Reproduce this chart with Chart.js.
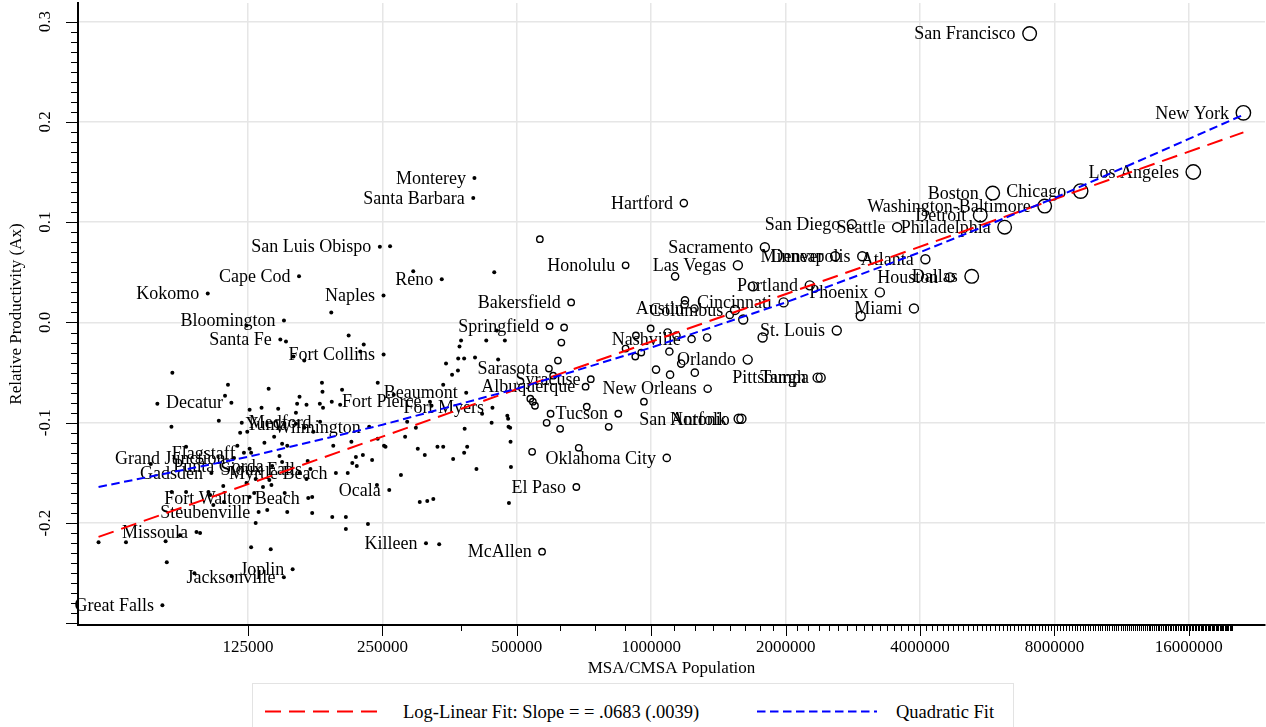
<!DOCTYPE html>
<html lang="en">
<head>
<meta charset="utf-8">
<title>Relative Productivity and MSA/CMSA Population</title>
<script src="https://cdn.jsdelivr.net/npm/chart.js@4.4.1/dist/chart.umd.min.js"></script>
<style>
  html, body { margin: 0; padding: 0; background: #ffffff; }
  #frame { position: relative; width: 1266px; height: 727px; overflow: hidden; }
  #plot { position: absolute; left: 0; top: 0; }
  #key { position: absolute; left: 252px; top: 683px; }
</style>
</head>
<body>
<div id="frame">
  <canvas id="plot" width="1266" height="727"></canvas>
  <svg id="key" width="762" height="60" xmlns="http://www.w3.org/2000/svg"></svg>
</div>
<script>
// Labelled metropolitan areas: name, population, relative productivity (Ax)
const cityNames = [
  "New York", "Los Angeles", "San Francisco", "Chicago", "Washington-Baltimore",
  "Boston", "Detroit", "Philadelphia", "Dallas", "Houston",
  "Atlanta", "Phoenix", "Miami", "Seattle", "San Diego",
  "Minneapolis", "Denver", "Portland", "St. Louis", "Pittsburgh",
  "Tampa", "Cincinnati", "Sacramento", "Orlando", "San Antonio",
  "Norfolk", "Las Vegas", "Columbus", "New Orleans", "Austin",
  "Nashville", "Hartford", "Oklahoma City", "Honolulu", "Tucson",
  "Syracuse", "Albuquerque", "El Paso", "Bakersfield", "Springfield",
  "Sarasota", "McAllen", "Fort Myers", "Monterey", "Santa Barbara",
  "Beaumont", "Reno", "Fort Pierce", "Killeen", "Ocala",
  "Fort Collins", "Naples", "San Luis Obispo", "Wilmington", "Myrtle Beach",
  "Medford", "Sioux Falls", "Fort Walton Beach", "Cape Cod", "Yuma",
  "Joplin", "Bloomington", "Jacksonville", "Santa Fe", "Punta Gorda",
  "Steubenville", "Flagstaff", "Grand Junction", "Decatur", "Gadsden",
  "Kokomo", "Missoula", "Great Falls"
];
const cityPopulation = [
  21199865, 16373645, 7039362, 9157540, 7608070,
  5819100, 5456428, 6188463, 5221801, 4669571,
  4112198, 3251876, 3876380, 3554760, 2813833,
  2968806, 2581506, 2265223, 2603607, 2358695,
  2395997, 1979202, 1796857, 1644561, 1592383,
  1569541, 1563282, 1540157, 1337726, 1249763,
  1231311, 1183110, 1083346, 876156, 843746,
  732117, 712738, 679622, 661645, 591932,
  589959, 569463, 440888, 401762, 399347,
  385090, 339486, 319426, 312952, 258916,
  251494, 251377, 246681, 233450, 196629,
  181269, 172412, 170498, 162582, 160026,
  157322, 150433, 150355, 147635, 141627,
  132008, 122366, 116255, 114706, 103459,
  101541, 95802, 80357
];
const cityProductivity = [
  0.209, 0.150, 0.288, 0.131, 0.116,
  0.129, 0.107, 0.095, 0.046, 0.045,
  0.063, 0.030, 0.014, 0.095, 0.098,
  0.066, 0.066, 0.037, -0.008, -0.055,
  -0.055, 0.020, 0.075, -0.037, -0.096,
  -0.096, 0.057, 0.0125, -0.066, 0.014,
  -0.0165, 0.119, -0.135, 0.057, -0.091,
  -0.0565, -0.064, -0.164, 0.020, -0.0035,
  -0.046, -0.2285, -0.085, 0.144, 0.124,
  -0.070, 0.043, -0.079, -0.220, -0.167,
  -0.032, 0.027, 0.0756, -0.104, -0.150,
  -0.099, -0.146, -0.175, 0.046, -0.101,
  -0.246, 0.002, -0.254, -0.017, -0.143,
  -0.189, -0.130, -0.135, -0.080, -0.150,
  0.029, -0.209, -0.282
];

// Unlabelled metropolitan areas
const otherPopulation = [
  563000, 1131000, 1690000, 1190000, 1188000, 1499000, 1607000, 1776000, 2946000, 638000,
  629000, 618000, 603000, 536000, 543000, 549000, 595000, 583000, 625000, 717000,
  803000, 963000, 541000, 688000, 876000, 924000, 997000, 1088000, 1139000, 1334000,
  1098000, 950000, 921000, 1025000, 1102000, 1252000, 1167000,
  293000, 445000, 260000, 192000, 124000, 152000, 210000, 227000, 223000, 158000,
  167000, 84600, 112700, 139000, 111000, 78300, 126000, 134000, 146000, 160000,
  163000, 183000, 183500, 203000, 244000, 192500, 201000, 169000, 181000, 184000,
  265000, 107500, 84200, 121000, 124500, 120000, 136000, 143000, 149000, 153000,
  167000, 175000, 213000, 194000, 244000, 252000, 254000, 281000, 297000, 284000,
  342000, 347000, 358000, 369000, 369500, 381000, 403000, 372000, 375000, 427000,
  470000, 451000, 454000, 322000, 418000, 439000, 476000, 478000, 483000, 479000,
  382000, 484000, 300000, 311000, 332000, 342000, 387000, 381000, 360000, 406000,
  485000, 275000, 303000, 315000, 325000, 480000, 335000, 218000, 226000, 237000,
  214000, 219000, 209000, 243000, 170000, 169000, 163000, 174000, 174000, 193000,
  207000, 207000, 232000, 90800, 118300, 127000, 126000, 147000, 149000, 75700,
  124000, 130000, 135000, 141000, 139500, 110000, 84300, 90800, 101900, 102800,
  110400, 104500, 129000, 151000, 126000, 138000, 153000, 130000, 88000, 97600,
  57813, 66600, 81700, 82200, 127000, 140500, 94800, 114900, 161000
];
const otherProductivity = [
  0.083, 0.046, 0.036, 0.022, 0.018, 0.0075, 0.003, -0.015, 0.0065, -0.005,
  -0.020, -0.038, -0.053, -0.076, -0.079, -0.083, -0.091, -0.100, -0.106, -0.084,
  -0.104, -0.079, -0.129, -0.125, -0.026, -0.013, -0.006, -0.010, -0.013, -0.015,
  -0.029, -0.030, -0.034, -0.047, -0.052, -0.050, -0.041,
  0.051, 0.050, 0.076, 0.010, -0.003, -0.019, -0.013, -0.022, -0.029, -0.034,
  -0.038, -0.050, -0.062, -0.066, -0.073, -0.081, -0.087, -0.085, -0.086, -0.090,
  -0.074, -0.060, -0.069, -0.067, -0.060, -0.079, -0.082, -0.082, -0.081, -0.085,
  -0.072, -0.098, -0.104, -0.100, -0.109, -0.110, -0.120, -0.114, -0.121, -0.123,
  -0.105, -0.109, -0.119, -0.123, -0.116, -0.123, -0.124, -0.114, -0.105, -0.099,
  -0.062, -0.041, -0.052, -0.048, -0.036, -0.036, -0.035, -0.024, -0.018, -0.018,
  -0.018, -0.008, -0.037, -0.083, -0.091, -0.100, -0.093, -0.096, -0.105, -0.104,
  -0.106, -0.119, -0.126, -0.132, -0.124, -0.124, -0.124, -0.130, -0.136, -0.146,
  -0.144, -0.152, -0.179, -0.178, -0.176, -0.180, -0.221, -0.134, -0.132, -0.137,
  -0.140, -0.143, -0.150, -0.162, -0.138, -0.156, -0.150, -0.174, -0.190, -0.194,
  -0.194, -0.206, -0.201, -0.124, -0.123, -0.130, -0.126, -0.133, -0.139, -0.141,
  -0.160, -0.156, -0.164, -0.162, -0.157, -0.163, -0.169, -0.169, -0.169, -0.172,
  -0.179, -0.182, -0.170, -0.170, -0.174, -0.187, -0.189, -0.200, -0.212, -0.210,
  -0.219, -0.219, -0.218, -0.239, -0.224, -0.226, -0.250, -0.253, -0.081
];

// Log-linear fit: slope per log point and its standard error, level at 1,000,000
const logLinearSlope = 0.0683;
const logLinearSE = 0.0039;
const logLinearAtOneMillion = -0.0191;

// Quadratic fit
const quadFitPopulation = [57813, 125000, 250000, 500000, 1000000, 2000000, 4000000, 8000000, 16000000, 21199865];
const quadFitValue = [-0.164, -0.134, -0.102, -0.066, -0.025, 0.020, 0.070, 0.124, 0.183, 0.207];

// Axis ticks
const xMajorTicks = [125000, 250000, 500000, 1000000, 2000000, 4000000, 8000000, 16000000];
const xMinorStep = 125000;
const xMinorLast = 20000000;
const yMajorTicks = [-0.2, -0.1, 0.0, 0.1, 0.2, 0.3];
const yMinorStep = 0.01;

const SERIF = '"Liberation Serif", "Times New Roman", serif';
const GRID = '#e6e6e6';

const cityPoints = cityNames.map((n, i) => ({ x: cityPopulation[i], y: cityProductivity[i], name: n }));
const otherPoints = otherPopulation.map((p, i) => ({ x: p, y: otherProductivity[i], name: '' }));
const allPoints = cityPoints.concat(otherPoints);

const popMin = Math.min(...allPoints.map(p => p.x));
const popMax = Math.max(...allPoints.map(p => p.x));
const logLinearLine = [popMin, popMax].map(p => ({
  x: p, y: logLinearAtOneMillion + logLinearSlope * Math.log(p / 1000000)
}));
const quadLine = quadFitPopulation.map((p, i) => ({ x: p, y: quadFitValue[i] }));

function markerRadius(pop) {
  if (pop < 500000) return 2;
  if (pop < 1000000) return 3.2;
  if (pop < 1500000) return 3.6;
  if (pop < 5000000) return 4.5;
  if (pop < 9000000) return 6.8;
  return 7.2;
}
const isMajorX = v => xMajorTicks.includes(v);
const yHundredths = v => Math.round(v * 100);
const isMajorY = v => yMajorTicks.some(t => Math.round(t * 100) === yHundredths(v));

// Keep the plot area flush with the axes: no extra room for end labels
function noEndPadding(s) {
  s.paddingTop = 0; s.paddingBottom = 0; s.paddingLeft = 0; s.paddingRight = 0;
}

// City names sit to the left of their markers, drawn before the fit lines
const cityLabels = {
  id: 'cityLabels',
  afterDatasetDraw(chart, args) {
    if (args.index !== 0) return;
    const ctx = chart.ctx;
    ctx.save();
    ctx.font = '18px ' + SERIF;
    ctx.fillStyle = '#000';
    ctx.textAlign = 'right';
    ctx.textBaseline = 'middle';
    args.meta.data.forEach((el, i) => {
      const pt = allPoints[i];
      if (!pt.name) return;
      const r = markerRadius(pt.x) + (pt.x < 500000 ? 0 : 0.7);
      ctx.fillText(pt.name, el.x - r - 6.5, el.y + 1);
    });
    ctx.restore();
  }
};

// Major and minor tick marks along both axes
const tickMarks = {
  id: 'tickMarks',
  afterDraw(chart) {
    const { ctx, scales: { x, y }, chartArea } = chart;
    ctx.save();
    ctx.strokeStyle = '#000';
    ctx.lineWidth = 1;
    ctx.beginPath();
    for (let v = xMinorStep; v <= xMinorLast; v += xMinorStep) {
      const px = Math.round(x.getPixelForValue(v)) + 0.5;
      const len = isMajorX(v) ? 11 : 6;
      ctx.moveTo(px, chartArea.bottom);
      ctx.lineTo(px, chartArea.bottom + len);
    }
    for (let k = -30; k <= 30; k++) {
      const v = k * yMinorStep;
      const py = Math.round(y.getPixelForValue(v)) + 0.5;
      const len = (k % 10 === 0) ? 12 : 7;
      ctx.moveTo(chartArea.left, py);
      ctx.lineTo(chartArea.left - len, py);
    }
    ctx.stroke();
    ctx.restore();
  }
};

const chart = new Chart(document.getElementById('plot'), {
  type: 'scatter',
  data: {
    datasets: [
      {
        label: 'Metropolitan areas',
        data: allPoints,
        order: 2,
        pointRadius: c => markerRadius(c.raw.x),
        pointBackgroundColor: c => c.raw.x < 500000 ? '#000' : 'rgba(0,0,0,0)',
        pointBorderColor: '#000',
        pointBorderWidth: c => c.raw.x < 500000 ? 0 : 1.4,
        showLine: false
      },
      {
        label: 'Log-Linear Fit: Slope = = ' + logLinearSlope.toFixed(4).replace(/^0/, '') +
               ' (' + logLinearSE.toFixed(4).replace(/^0/, '') + ')',
        data: logLinearLine,
        order: 1,
        showLine: true,
        borderColor: '#ff0000',
        borderWidth: 2,
        borderDash: [16, 8],
        pointRadius: 0
      },
      {
        label: 'Quadratic Fit',
        data: quadLine,
        order: 0,
        showLine: true,
        borderColor: '#0000ff',
        borderWidth: 2,
        borderDash: [8.5, 4.5],
        pointRadius: 0,
        tension: 0
      }
    ]
  },
  options: {
    responsive: false,
    animation: false,
    events: [],
    layout: { autoPadding: false, padding: { top: 3, right: 1, bottom: 44, left: 0 } },
    plugins: { legend: { display: false }, tooltip: { enabled: false } },
    scales: {
      x: {
        type: 'logarithmic',
        position: 'bottom',
        min: 52000,
        max: 23700000,
        afterBuildTicks: s => {
          const t = [];
          for (let v = xMinorStep; v <= xMinorLast; v += xMinorStep) t.push({ value: v, major: isMajorX(v) });
          s.ticks = t;
        },
        afterFit: s => { s.height = 58; noEndPadding(s); },
        grid: {
          color: c => (c.tick && isMajorX(c.tick.value)) ? GRID : 'rgba(0,0,0,0)',
          lineWidth: 1.5,
          drawTicks: false
        },
        border: { display: true, color: '#000', width: 2 },
        ticks: {
          autoSkip: false,
          maxRotation: 0,
          minRotation: 0,
          padding: 12,
          color: '#000',
          font: { family: SERIF, size: 17 },
          callback: v => isMajorX(v) ? String(v) : ''
        },
        title: {
          display: true,
          text: 'MSA/CMSA Population',
          color: '#000',
          font: { family: SERIF, size: 17 },
          padding: { top: 0, bottom: 4 }
        }
      },
      y: {
        type: 'linear',
        position: 'left',
        min: -0.3016,
        max: 0.3185,
        afterBuildTicks: s => {
          const t = [];
          for (let k = -30; k <= 30; k++) t.push({ value: k / 100 });
          s.ticks = t;
        },
        afterFit: s => { s.width = 78; noEndPadding(s); },
        grid: {
          color: c => (c.tick && isMajorY(c.tick.value)) ? GRID : 'rgba(0,0,0,0)',
          lineWidth: 1.5,
          drawTicks: false
        },
        border: { display: true, color: '#000', width: 2 },
        ticks: {
          autoSkip: false,
          minRotation: 90,
          maxRotation: 90,
          crossAlign: 'center',
          padding: 19,
          color: '#000',
          font: { family: SERIF, size: 17 },
          callback: v => isMajorY(v) ? (yHundredths(v) / 100).toFixed(1) : ''
        },
        title: {
          display: true,
          text: 'Relative Productivity (Ax)',
          color: '#000',
          font: { family: SERIF, size: 17 },
          padding: { top: 6, bottom: 0 }
        }
      }
    }
  },
  plugins: [cityLabels, tickMarks]
});

// Legend box below the plot, built from the two fit datasets
(function buildKey() {
  const svg = document.getElementById('key');
  const NS = 'http://www.w3.org/2000/svg';
  const frame = document.createElementNS(NS, 'rect');
  frame.setAttribute('x', '0.5'); frame.setAttribute('y', '0.5');
  frame.setAttribute('width', '761'); frame.setAttribute('height', '80');
  frame.setAttribute('fill', '#ffffff'); frame.setAttribute('stroke', '#e3e3e3');
  svg.appendChild(frame);
  const entries = [
    { ds: chart.data.datasets[1], lineX: 13, textX: 151 },
    { ds: chart.data.datasets[2], lineX: 505, textX: 644 }
  ];
  entries.forEach(e => {
    const line = document.createElementNS(NS, 'line');
    line.setAttribute('x1', e.lineX); line.setAttribute('x2', e.lineX + 120);
    line.setAttribute('y1', 28.5); line.setAttribute('y2', 28.5);
    line.setAttribute('stroke', e.ds.borderColor);
    line.setAttribute('stroke-width', e.ds.borderWidth);
    line.setAttribute('stroke-dasharray', e.ds.borderDash.join(' '));
    svg.appendChild(line);
    const text = document.createElementNS(NS, 'text');
    text.setAttribute('x', e.textX); text.setAttribute('y', 34.5);
    text.setAttribute('font-family', SERIF); text.setAttribute('font-size', '18.5');
    text.setAttribute('fill', '#000');
    text.textContent = e.ds.label;
    svg.appendChild(text);
  });
})();
</script>
</body>
</html>
